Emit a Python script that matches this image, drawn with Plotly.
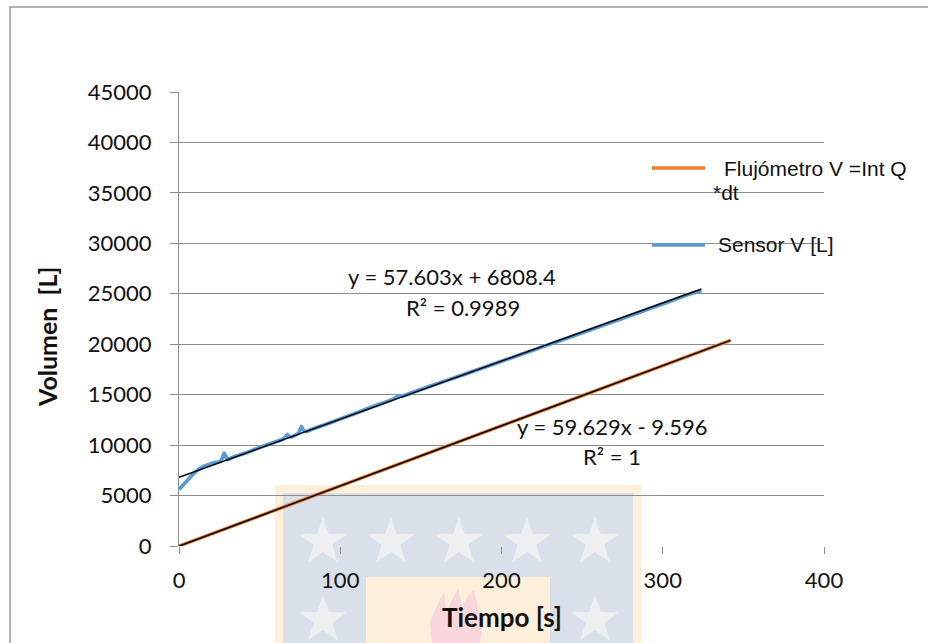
import math
import plotly.graph_objects as go

# --- data -------------------------------------------------------------
# Volume from the level sensor [L] vs time [s]
sensor_t = [0, 2, 4, 6, 8, 10, 12, 15, 18, 21, 24, 26, 27, 28, 29, 30, 32, 36, 40,
            45, 50, 55, 60, 64, 66, 67, 68, 70, 72, 74, 75, 76, 77, 79, 82, 90,
            100, 110, 120, 130, 134, 136, 138, 145, 155, 165, 175, 185, 195, 205,
            215, 225, 235, 245, 255, 265, 275, 285, 295, 305, 315, 324]
sensor_v = [5600, 5950, 6300, 6650, 7000, 7300, 7580, 7850, 8050, 8200, 8330, 8420,
            8800, 9200, 8900, 8560, 8700, 8950, 9150, 9450, 9760, 10050, 10330,
            10560, 10800, 11050, 10900, 10820, 10980, 11150, 11500, 11850, 11500,
            11350, 11540, 12000, 12580, 13180, 13800, 14380, 14650, 14900, 14850,
            15230, 15800, 16350, 16900, 17470, 18030, 18590, 19150, 19720, 20280,
            20850, 21420, 21990, 22560, 23130, 23710, 24290, 24880, 25300]

# Volume integrated from the flow meter, V = Int Q dt
flow_t = [0, 50, 100, 150, 200, 250, 300, 342]
flow_v = [0, 2972, 5953, 8935, 11917, 14898, 17880, 20380]

# Linear fits (slope, intercept, R^2) and the span each trendline covers
sensor_fit = (57.603, 6808.4, 0.9989)
sensor_fit_span = (0, 324)
flow_fit = (59.629, -9.596, 1)
flow_fit_span = (0, 342)

x_ticks = [0, 100, 200, 300, 400]
y_ticks = [0, 5000, 10000, 15000, 20000, 25000, 30000, 35000, 40000, 45000]

legend_names = ["Flujómetro V =Int Q", "Sensor V [L]"]

# --- layout geometry (pixels) ----------------------------------------
W, H = 928, 643
PL, PR, PT, PB = 179, 824, 92, 546


def px(x):
    return (x - PL) / (PR - PL)


def py(y):
    return (PB - y) / (PB - PT)


ORANGE = "#ED7D31"
BLUE = "#5B9BD5"
GRID = "#8E8E8E"
TXT = "#111111"
NUM_FONT = "Lato"

fig = go.Figure()

fig.add_trace(go.Scatter(x=flow_t, y=flow_v, mode="lines",
                         line=dict(color=ORANGE, width=3.5), showlegend=False))
fig.add_trace(go.Scatter(x=sensor_t, y=sensor_v, mode="lines",
                         line=dict(color=BLUE, width=3.8, shape="spline", smoothing=0.6),
                         showlegend=False))

for (m, b, _), (a0, a1) in [(sensor_fit, sensor_fit_span), (flow_fit, flow_fit_span)]:
    fig.add_trace(go.Scatter(x=[a0, a1], y=[m * a0 + b, m * a1 + b], mode="lines",
                             line=dict(color="#000000", width=1.5), showlegend=False))

shapes = []

# outer chart frame
shapes.append(dict(type="rect", xref="paper", yref="paper",
                   x0=px(10), x1=px(W + 20), y0=py(7), y1=py(H + 20),
                   line=dict(color="#9A9A9A", width=1.5), fillcolor="rgba(0,0,0,0)",
                   layer="below"))

# faint emblem printed behind the lower part of the chart
shapes.append(dict(type="rect", xref="paper", yref="paper",
                   x0=px(275), x1=px(641), y0=py(485), y1=py(H + 10),
                   line=dict(width=0), fillcolor="#FDF0DB", layer="below"))
shapes.append(dict(type="rect", xref="paper", yref="paper",
                   x0=px(283), x1=px(633), y0=py(493), y1=py(H + 10),
                   line=dict(width=0), fillcolor="#D9E0E9", layer="below"))
shapes.append(dict(type="rect", xref="paper", yref="paper",
                   x0=px(366), x1=px(550), y0=py(577), y1=py(H + 10),
                   line=dict(width=0), fillcolor="#FDEFD9", layer="below"))


def star_path(cx, cy, r_out, r_in):
    pts = []
    for k in range(10):
        ang = math.radians(90 + 36 * k)
        r = r_out if k % 2 == 0 else r_in
        pts.append((cx + r * math.cos(ang), cy - r * math.sin(ang)))
    return "M " + " L ".join(f"{px(a):.5f},{py(b):.5f}" for a, b in pts) + " Z"


for sx in [323, 391, 459, 527, 595]:
    shapes.append(dict(type="path", xref="paper", yref="paper",
                       path=star_path(sx, 542, 25, 10), line=dict(width=0),
                       fillcolor="#EEEFF1", layer="below"))
for sx in [323, 595]:
    shapes.append(dict(type="path", xref="paper", yref="paper",
                       path=star_path(sx, 620, 25, 10), line=dict(width=0),
                       fillcolor="#EEEFF1", layer="below"))

# flame
flame = [(432, 643), (430, 622), (438, 604), (444, 592), (446, 612), (452, 600),
         (458, 588), (462, 606), (468, 596), (474, 590), (478, 608), (483, 625),
         (480, 643)]
shapes.append(dict(type="path", xref="paper", yref="paper",
                   path="M " + " L ".join(f"{px(a):.5f},{py(b):.5f}" for a, b in flame) + " Z",
                   line=dict(width=0), fillcolor="#F7D6DC", layer="below"))

# legend keys
for yk, col in [(168, ORANGE), (245, BLUE)]:
    shapes.append(dict(type="line", xref="paper", yref="paper",
                       x0=px(652), x1=px(705), y0=py(yk), y1=py(yk),
                       line=dict(color=col, width=3.5)))

annotations = []
LEG_FONT = dict(family="Liberation Sans, Arial", size=21, color=TXT)
annotations.append(dict(xref="paper", yref="paper", x=px(722), y=py(168),
                        xanchor="left", yanchor="middle", showarrow=False,
                        text=legend_names[0], font=LEG_FONT))
annotations.append(dict(xref="paper", yref="paper", x=px(711), y=py(193),
                        xanchor="left", yanchor="middle", showarrow=False,
                        text="*dt", font=LEG_FONT))
annotations.append(dict(xref="paper", yref="paper", x=px(716), y=py(245),
                        xanchor="left", yanchor="middle", showarrow=False,
                        text=legend_names[1], font=LEG_FONT))


def eq_text(m, b):
    sign = "+" if b >= 0 else "-"
    return f"y = {m:g}x {sign} {abs(b):g}"


NUM = dict(family=NUM_FONT, size=22, color=TXT)
for (m, b, r2), (ex, ey), (rx, ry) in [
        (sensor_fit, (452, 276), (463, 307)),
        (flow_fit, (612, 426), (612, 456))]:
    annotations.append(dict(xref="paper", yref="paper", x=px(ex), y=py(ey),
                            xanchor="center", yanchor="middle", showarrow=False,
                            text=eq_text(m, b), font=NUM))
    annotations.append(dict(xref="paper", yref="paper", x=px(rx), y=py(ry),
                            xanchor="center", yanchor="middle", showarrow=False,
                            text=f"R² = {r2:g}", font=NUM))

# axis titles
annotations.append(dict(xref="paper", yref="paper", x=px(502), y=py(617),
                        xanchor="center", yanchor="middle", showarrow=False,
                        text="<b>Tiempo [s]</b>",
                        font=dict(family=NUM_FONT, size=26, color=TXT)))
annotations.append(dict(xref="paper", yref="paper", x=px(47), y=py(337),
                        xanchor="center", yanchor="middle", showarrow=False,
                        textangle=-90, text="<b>Volumen  [L]</b>",
                        font=dict(family=NUM_FONT, size=25, color=TXT)))

fig.update_layout(
    width=W, height=H,
    margin=dict(l=PL, r=W - PR, t=PT, b=H - PB, pad=0),
    paper_bgcolor="white", plot_bgcolor="rgba(0,0,0,0)",
    shapes=shapes, annotations=annotations,
    showlegend=False,
)
fig.update_xaxes(range=[0, 400], tickvals=x_ticks, tickformat="d", showgrid=False,
                 zeroline=False, showline=False, ticks="outside", ticklen=7,
                 tickcolor=GRID, tickwidth=1.3, tickfont=NUM, ticklabelstandoff=8)
fig.update_yaxes(range=[0, 45000], tickvals=y_ticks, tickformat="d", showgrid=True,
                 gridcolor=GRID, gridwidth=1.3, zeroline=False, showline=True,
                 linecolor=GRID, linewidth=1.3, ticks="outside", ticklen=8,
                 tickcolor=GRID, tickwidth=1.3, tickfont=NUM, ticklabelstandoff=14)

fig.write_html("out.html")
